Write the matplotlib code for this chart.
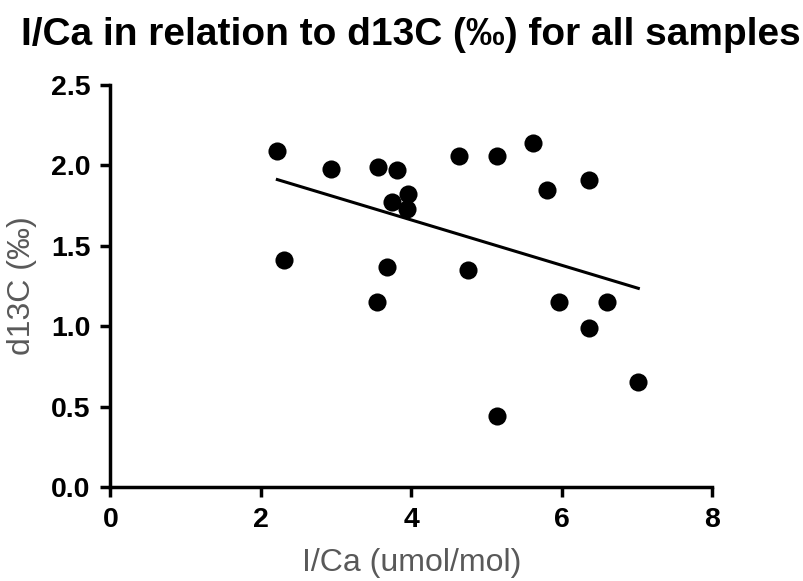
import matplotlib
matplotlib.use('Agg')
import matplotlib.pyplot as plt
import numpy as np

# I/Ca (umol/mol) vs d13C (permil)
ica = [2.22, 2.94, 3.56, 3.81, 3.96, 3.74, 3.94, 4.63, 2.31, 3.68, 4.76,
       3.55, 5.14, 5.62, 5.81, 6.36, 5.97, 6.61, 6.36, 7.02, 5.14]
d13c = [2.09, 1.98, 1.99, 1.97, 1.82, 1.77, 1.73, 2.06, 1.41, 1.37, 1.35,
        1.15, 2.06, 2.14, 1.85, 1.91, 1.15, 1.15, 0.99, 0.65, 0.44]

x_ticks = [0, 2, 4, 6, 8]
y_ticks = [0.0, 0.5, 1.0, 1.5, 2.0, 2.5]

plt.rcParams['font.family'] = ['Liberation Sans', 'DejaVu Sans']

fig = plt.figure(figsize=(8.04, 5.81), dpi=100)
ax = fig.add_axes([0.1373, 0.1618, 0.7483, 0.6919])

ax.scatter(ica, d13c, s=170, color='black', zorder=3, linewidths=0)

# recta de regresion lineal
pend, orden = np.polyfit(ica, d13c, 1)
xs = np.array([min(ica), max(ica)])
ax.plot(xs, pend * xs + orden, color='black', lw=2.2, zorder=2)

ax.set_xlim(0, 8)
ax.set_ylim(0, 2.5)
ax.set_xticks(x_ticks)
ax.set_yticks(y_ticks)
ax.set_yticklabels(['%.1f' % v for v in y_ticks])

for s in ['top', 'right']:
    ax.spines[s].set_visible(False)
for s in ['left', 'bottom']:
    ax.spines[s].set_linewidth(2.5)

ax.tick_params(width=2.5, length=7.5, direction='out', pad=7)
for lbl in ax.get_xticklabels() + ax.get_yticklabels():
    lbl.set_fontsize(20.5)
    lbl.set_fontweight('bold')

ax.set_xlabel('I/Ca (umol/mol)', fontsize=23, color='#595959', labelpad=11)
ax.set_ylabel('d13C (‰)', fontsize=23, color='#595959', labelpad=10)
ax.set_title('I/Ca in relation to d13C (‰) for all samples', fontsize=28,
             fontweight='bold', pad=29)

fig.savefig('out.png', dpi=100)
